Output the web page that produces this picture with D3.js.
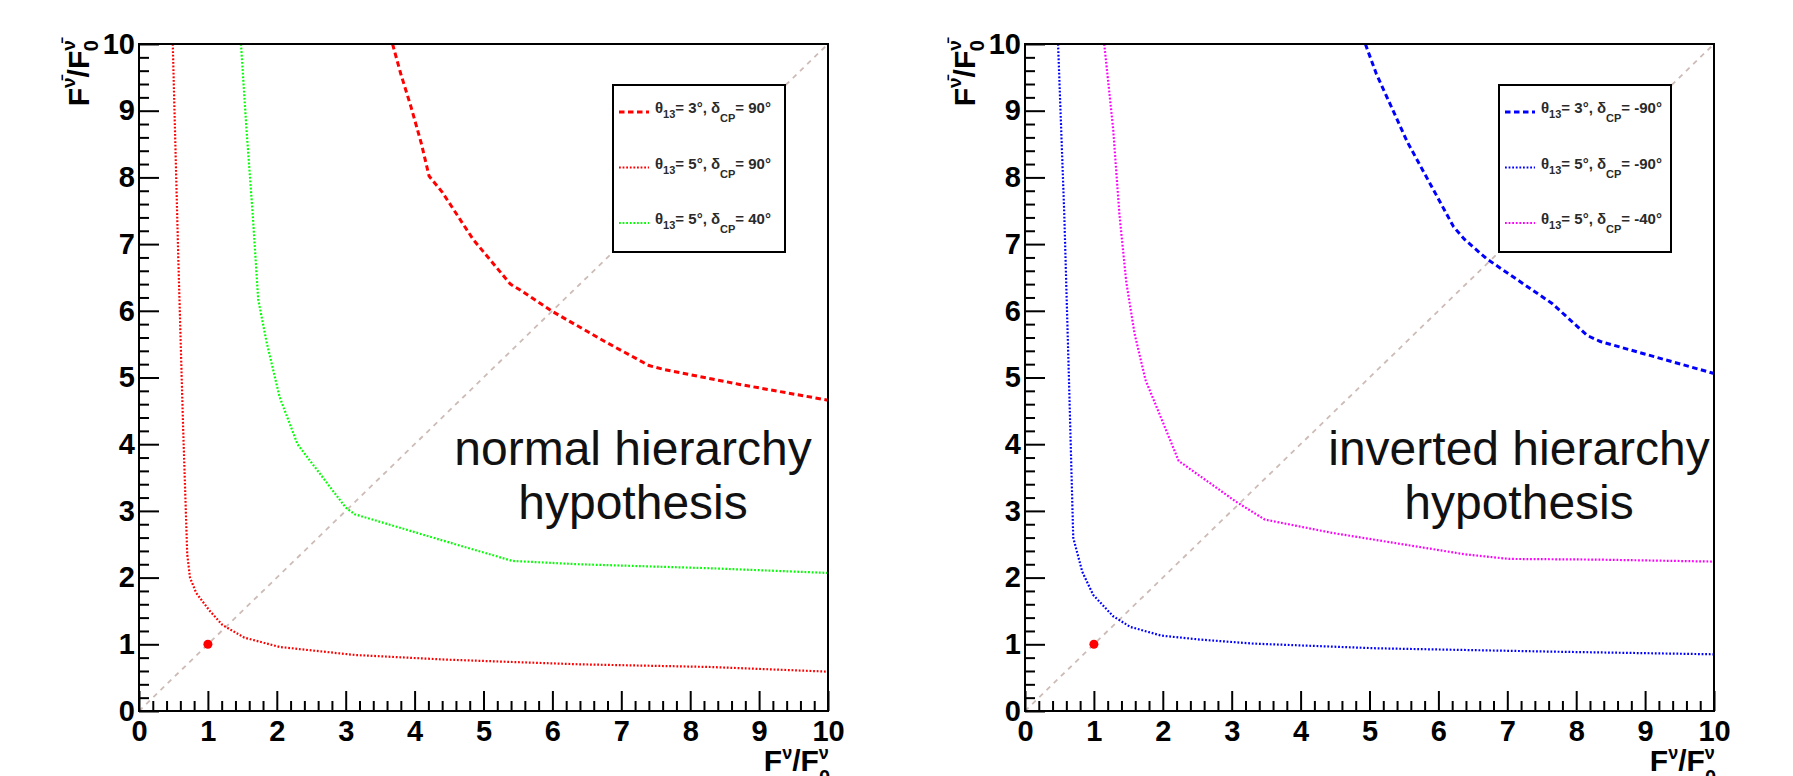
<!DOCTYPE html>
<html>
<head>
<meta charset="utf-8">
<script src="https://cdn.jsdelivr.net/npm/d3@7"></script>
<style>
  body { margin: 0; background: #fff; }
  text { font-family: "Liberation Sans", Arial, sans-serif; }
</style>
</head>
<body>
<script>
// Contour curves, [F_nu/F0_nu, F_nubar/F0_nubar]
var nhTheta3Delta90 = [[3.68,10],[3.80,9.55],[3.95,9.05],[4.10,8.5],[4.21,8.02],[4.40,7.78],[4.85,7.07],[5.39,6.40],[5.55,6.30],[6.0,5.99],[6.76,5.54],[7.40,5.18],[7.62,5.12],[8.7,4.90],[10,4.66]];
var nhTheta5Delta90 = [[0.49,10],[0.57,6.8],[0.64,4.26],[0.70,2.35],[0.74,2.0],[0.83,1.77],[1.02,1.51],[1.21,1.29],[1.53,1.10],[2.04,0.96],[3.13,0.84],[4.46,0.77],[6.38,0.70],[8.29,0.66],[10,0.59]];
var nhTheta5Delta40 = [[1.48,10],[1.56,8.72],[1.65,7.45],[1.73,6.17],[1.85,5.54],[2.04,4.71],[2.30,4.0],[3.0,3.05],[3.13,2.95],[4.46,2.54],[5.42,2.25],[6.38,2.20],[8.29,2.14],[10,2.07]];

var ihTheta3Delta90 = [[4.94,10],[5.10,9.55],[5.55,8.53],[6.22,7.26],[6.38,7.07],[6.70,6.78],[7.65,6.11],[8.16,5.63],[8.35,5.54],[10,5.06]];
var ihTheta5Delta90 = [[0.48,10],[0.57,7.45],[0.64,4.9],[0.70,2.6],[0.83,2.09],[0.99,1.74],[1.28,1.42],[1.53,1.26],[1.98,1.13],[2.55,1.07],[3.32,1.01],[5.10,0.94],[7.65,0.89],[10,0.85]];
var ihTheta5Delta40 = [[1.15,10],[1.28,8.72],[1.37,7.45],[1.47,6.43],[1.59,5.66],[1.75,4.96],[2.23,3.75],[3.06,3.14],[3.48,2.87],[4.46,2.67],[5.42,2.51],[6.38,2.35],[7.02,2.28],[8.29,2.27],[10,2.24]];

// legend labels: [theta13, deltaCP]
var nhLabels = [['3°','90°'],['5°','90°'],['5°','40°']];
var ihLabels = [['3°','-90°'],['5°','-90°'],['5°','-40°']];

var refPoint = [[1,1]];
var diagonal = [[0,0],[10,10]];
var tickValues = d3.range(0, 11);
var minorValues = d3.range(0, 50).map(function(i){ return i / 5; }).filter(function(v){ return v % 1 !== 0; });

var width = 1793, height = 776;
var svg = d3.select('body').append('svg')
    .attr('width', width)
    .attr('height', height);

function styleLine(sel, s){
    sel.attr('stroke', s.color)
        .attr('stroke-width', s.dash ? 3 : 2.2)
        .attr('stroke-dasharray', s.dash ? '5.5,3.5' : '1.8,1.8');
}

function drawPanel(opts){
    var x = d3.scaleLinear().domain([0,10]).range([opts.left, opts.left + 689]);
    var y = d3.scaleLinear().domain([0,10]).range([711, 44]);
    var g = svg.append('g');
    var line = d3.line().x(function(d){ return x(d[0]); }).y(function(d){ return y(d[1]); });

    //diagonal reference
    g.append('path').datum(diagonal)
        .attr('d', line)
        .attr('fill','none')
        .attr('stroke','#cdbbb6')
        .attr('stroke-width',1.8)
        .attr('stroke-dasharray','5,5');

    //curves
    opts.series.forEach(function(s){
        g.append('path').datum(s.data)
            .attr('d', line)
            .attr('fill','none')
            .call(styleLine, s);
    });

    //reference point
    g.selectAll('.ref').data(refPoint).enter().append('circle')
        .attr('cx', function(d){ return x(d[0]); })
        .attr('cy', function(d){ return y(d[1]); })
        .attr('r', 4.5)
        .attr('fill','#ff0000');

    //frame
    g.append('rect')
        .attr('x', x(0)).attr('y', y(10))
        .attr('width', x(10) - x(0)).attr('height', y(0) - y(10))
        .attr('fill','none').attr('stroke','#000').attr('stroke-width',2);

    //axes (ticks inside, labels outside)
    g.append('g').attr('transform','translate(0,' + y(0) + ')')
        .call(d3.axisBottom(x).tickValues(tickValues).tickSize(-20).tickSizeOuter(0).tickPadding(9).tickFormat(d3.format('d')));
    g.append('g').attr('transform','translate(0,' + y(0) + ')')
        .call(d3.axisBottom(x).tickValues(minorValues).tickSize(-10).tickSizeOuter(0).tickFormat(''));
    g.append('g').attr('transform','translate(' + x(0) + ',0)')
        .call(d3.axisLeft(y).tickValues(tickValues).tickSize(-20).tickSizeOuter(0).tickPadding(4).tickFormat(d3.format('d')));
    g.append('g').attr('transform','translate(' + x(0) + ',0)')
        .call(d3.axisLeft(y).tickValues(minorValues).tickSize(-10).tickSizeOuter(0).tickFormat(''));
    g.selectAll('.domain').remove();
    g.selectAll('.tick line').attr('stroke','#000').attr('stroke-width',2);
    g.selectAll('.tick text')
        .attr('font-size', 29)
        .attr('font-weight','bold')
        .attr('font-family','"Liberation Sans", Arial, sans-serif')
        .attr('fill','#000');

    //x title
    var xt = g.append('text')
        .attr('x', x(10) + 2).attr('y', 771)
        .attr('text-anchor','end')
        .attr('font-size', 30).attr('font-weight','bold');
    xt.append('tspan').text('F');
    xt.append('tspan').attr('font-size',18).attr('dy',-12).text('ν');
    xt.append('tspan').attr('dy',12).text('/F');
    xt.append('tspan').attr('font-size',18).attr('dy',-12).text('ν');
    xt.append('tspan').attr('font-size',20).attr('dx',-10).attr('dy',25).text('0');

    //y title
    var yt = g.append('text')
        .attr('transform','translate(' + (x(0) - 50) + ',40) rotate(-90)')
        .attr('text-anchor','end')
        .attr('font-size', 30).attr('font-weight','bold');
    yt.append('tspan').text('F');
    yt.append('tspan').attr('font-size',19).attr('dy',-14).text('ν̄');
    yt.append('tspan').attr('dy',14).text('/F');
    yt.append('tspan').attr('font-size',19).attr('dy',-14).text('ν̄');
    yt.append('tspan').attr('font-size',20).attr('dx',-11).attr('dy',23).text('0');

    //legend
    var lx = x(0) + 474, ly = 85;
    var lg = g.append('g');
    lg.append('rect')
        .attr('x', lx).attr('y', ly).attr('width', 172).attr('height', 167)
        .attr('fill','#fff').attr('stroke','#000').attr('stroke-width',2);
    opts.series.forEach(function(s, i){
        var yy = ly + 27 + i * 55.5;
        lg.append('line')
            .attr('x1', lx + 6).attr('x2', lx + 36)
            .attr('y1', yy).attr('y2', yy)
            .call(styleLine, s);
        var t = lg.append('text')
            .attr('x', lx + 42).attr('y', yy + 1)
            .attr('font-size', 15).attr('font-weight','bold').attr('fill','#2a2a2a');
        t.append('tspan').text('θ');
        t.append('tspan').attr('font-size',11).attr('dy',5).text('13');
        t.append('tspan').attr('dy',-5).text('= ' + opts.labels[i][0] + ', δ');
        t.append('tspan').attr('font-size',11).attr('dy',9).text('CP');
        t.append('tspan').attr('dy',-9).text('= ' + opts.labels[i][1]);
    });

    //annotation
    var at = g.append('text')
        .attr('text-anchor','middle')
        .attr('font-size', 48)
        .attr('fill','#111');
    at.append('tspan').attr('x', x(7.17)).attr('y', y(3.69)).text(opts.title);
    at.append('tspan').attr('x', x(7.17)).attr('y', y(2.88)).text('hypothesis');
}

drawPanel({
    left: 139,
    title: 'normal hierarchy',
    labels: nhLabels,
    series: [
        {data: nhTheta3Delta90, color: '#ff0000', dash: true},
        {data: nhTheta5Delta90, color: '#ff0000', dash: false},
        {data: nhTheta5Delta40, color: '#00ff00', dash: false}
    ]
});

drawPanel({
    left: 1025,
    title: 'inverted hierarchy',
    labels: ihLabels,
    series: [
        {data: ihTheta3Delta90, color: '#0000ff', dash: true},
        {data: ihTheta5Delta90, color: '#0000ff', dash: false},
        {data: ihTheta5Delta40, color: '#ff00ff', dash: false}
    ]
});
</script>
</body>
</html>
